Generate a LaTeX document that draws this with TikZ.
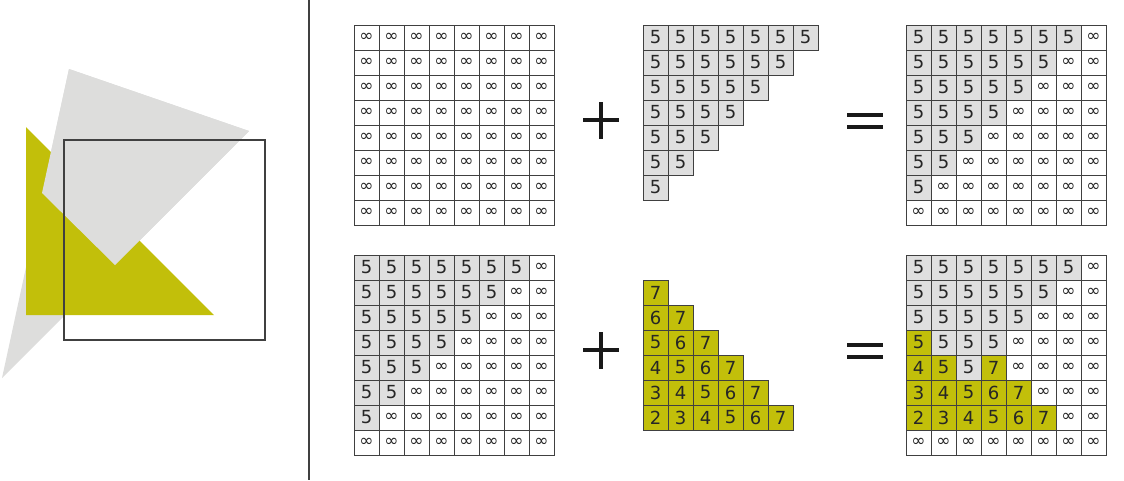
\documentclass[tikz,border=0pt]{standalone}
\usepackage{fontspec}
\setmainfont{DejaVu Sans}
\definecolor{depthyellow}{RGB}{194,191,10}
\definecolor{cellgrey}{RGB}{223,223,223}
\definecolor{shapegrey}{RGB}{221,221,220}

\begin{document}
\begin{tikzpicture}[
    x=1pt, y=-1pt,
    cell/.style={draw=black!75, line width=0.7pt, minimum size=25pt, inner sep=0pt, text=black!85},
    infcell/.style={cell, fill=white, font=\fontsize{17}{17}\selectfont},
    greycell/.style={cell, fill=cellgrey, font=\fontsize{18}{18}\selectfont},
    yellowcell/.style={cell, fill=depthyellow, font=\fontsize{18}{18}\selectfont},
    sign/.style={line width=4pt, black!90},
    divider/.style={line width=1.5pt, black!75}
]
\useasboundingbox (0,0) rectangle (1124,480);

% Scene: two intersecting triangles and the viewport
\fill[shapegrey] (69,69) -- (249,131) -- (2,378) -- cycle;
\fill[depthyellow] (26,127) -- (26,315) -- (214,315) -- cycle;
\fill[shapegrey] (69,69) -- (249,131) -- (115,265) -- (42,193) -- cycle;
\draw[black!75, line width=1.2pt] (64,140) rectangle (265,340);

% Divider
\draw[divider] (309,0) -- (309,480);

% Cleared depth buffer
\foreach \r in {1,...,8}
  \foreach \c in {1,...,8}
    \node[infcell] (clear-\r-\c) at ({341.5+25*\c},{12.5+25*\r}) {∞};

% Grey triangle
\foreach \r in {1,...,7}{
  \pgfmathtruncatemacro\n{8-\r}
  \foreach \c in {1,...,\n}
    \node[greycell] (grey-\r-\c) at ({630.5+25*\c},{12.5+25*\r}) {5};
}

% Buffer after grey triangle (twice)
\foreach \r in {1,...,8}
  \foreach \c in {1,...,8}{
    \ifnum\numexpr\c+\r\relax<9
      \node[greycell] (first-\r-\c) at ({893.5+25*\c},{12.5+25*\r}) {5};
      \node[greycell] (prev-\r-\c) at ({341.5+25*\c},{242.5+25*\r}) {5};
    \else
      \node[infcell] (first-\r-\c) at ({893.5+25*\c},{12.5+25*\r}) {∞};
      \node[infcell] (prev-\r-\c) at ({341.5+25*\c},{242.5+25*\r}) {∞};
    \fi
  }

% Yellow triangle
\foreach \r in {2,...,7}{
  \pgfmathtruncatemacro\n{\r-1}
  \foreach \c in {1,...,\n}{
    \pgfmathtruncatemacro\v{\c+8-\r}
    \node[yellowcell] (yellow-\r-\c) at ({630.5+25*\c},{242.5+25*\r}) {\v};
  }
}

% Buffer after both triangles
\foreach \r in {1,...,8}
  \foreach \c in {1,...,8}{
    \pgfmathtruncatemacro\g{(\c+\r<9) ? 5 : 99}
    \pgfmathtruncatemacro\y{(\c<\r && \r<8) ? \c+8-\r : 99}
    \ifnum\y>\g
      \node[greycell] (final-\r-\c) at ({893.5+25*\c},{242.5+25*\r}) {5};
    \else\ifnum\y<99
      \node[yellowcell] (final-\r-\c) at ({893.5+25*\c},{242.5+25*\r}) {\y};
    \else
      \node[infcell] (final-\r-\c) at ({893.5+25*\c},{242.5+25*\r}) {∞};
    \fi\fi
  }

% Operators
\draw[sign] (583,120) -- (619,120) (601,102) -- (601,139);
\draw[sign] (583,350) -- (619,350) (601,332) -- (601,369);
\draw[sign] (847,115) -- (883,115) (847,127) -- (883,127);
\draw[sign] (847,345) -- (883,345) (847,357) -- (883,357);

\end{tikzpicture}
\end{document}
